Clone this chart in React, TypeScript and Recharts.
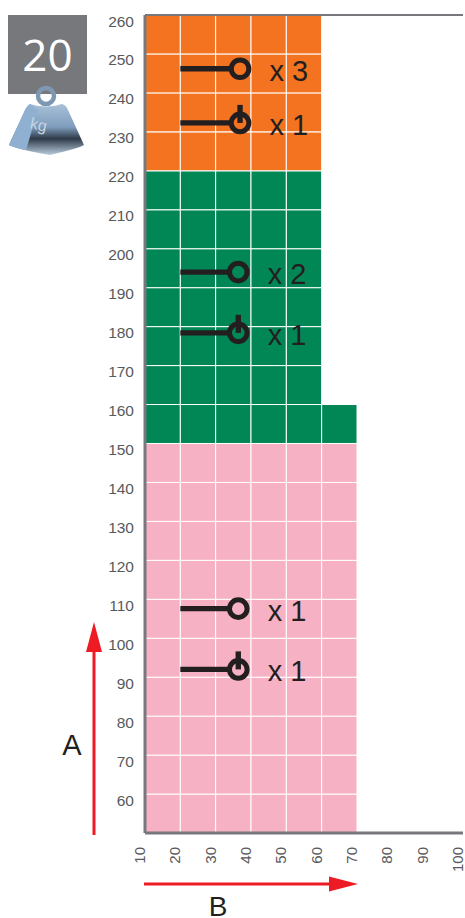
import { ComposedChart, Line, ReferenceArea, ReferenceLine, XAxis, YAxis } from 'recharts'

const xTicks = [10, 20, 30, 40, 50, 60, 70, 80, 90, 100]
const yTicks = [60, 70, 80, 90, 100, 110, 120, 130, 140, 150, 160, 170, 180, 190, 200, 210, 220, 230, 240, 250, 260]

// colored zones: A from / A to / B limit
const zoneFrom = [50, 150, 160, 220]
const zoneTo = [150, 160, 220, 260]
const zoneEnd = [70, 70, 60, 60]
const zoneColors = ['#f7b1c4', '#008755', '#008755', '#f47321']

// hose fittings
const fitA = [246.2, 232.3, 194, 178.4, 107.6, 92]
const fitB = [36.9, 36.9, 36.4, 36.4, 36.4, 36.4]
const stemStart = [20, 20, 20, 20, 20, 20]
const stemEnd = [34.4, 34.4, 33.9, 33.9, 33.9, 33.9]
const counts = ['x 3', 'x 1', 'x 2', 'x 1', 'x 1', 'x 1']
const notched = [false, true, false, true, false, true]

const GRAY = '#77787b'
const DARK = '#231f20'
const RED = '#ed1c24'

const cells: { x1: number; x2: number; y1: number; y2: number; fill: string }[] = []
zoneFrom.forEach((from, i) => {
  for (let a = from; a < zoneTo[i]; a += 10) {
    for (let b = 10; b < zoneEnd[i]; b += 10) {
      cells.push({ x1: b, x2: b + 10, y1: a, y2: a + 10, fill: zoneColors[i] })
    }
  }
})

function YTick({ x, y, payload }: any) {
  return (
    <text x={x} y={y + 11.5} textAnchor="end" fontFamily="Liberation Sans" fontSize={15.5} fill="#58595b">
      {payload.value}
    </text>
  )
}

function XTick({ x, y, payload }: any) {
  return (
    <text
      transform={`translate(${x},${y}) rotate(-90)`}
      textAnchor="end"
      fontFamily="Liberation Sans"
      fontSize={15}
      fill="#58595b"
    >
      {payload.value}
    </text>
  )
}

function Ring(props: any) {
  const { cx, cy, payload } = props
  if (cx == null || cy == null) return null
  return (
    <g key={payload.key}>
      <circle cx={cx} cy={cy} r={8.8} fill="none" stroke={DARK} strokeWidth={5} />
      {payload.notched && <rect x={cx - 2.7} y={cy - 18} width={5.4} height={18} fill={DARK} />}
      <text x={cx + 29.5} y={cy + 12} fontFamily="Liberation Sans" fontSize={29} fill={DARK}>
        {payload.count}
      </text>
    </g>
  )
}

function Weight() {
  return (
    <svg width={90} height={80} style={{ position: 'absolute', left: 0, top: 80 }}>
      <defs>
        <linearGradient id="kg" x1="0" y1="0" x2="0" y2="1">
          <stop offset="0" stopColor="#a9c0d8" />
          <stop offset="0.45" stopColor="#7f9dbd" />
          <stop offset="0.68" stopColor="#2f3a48" />
          <stop offset="1" stopColor="#b9cde0" />
        </linearGradient>
      </defs>
      <circle cx={46} cy={16} r={8} fill="none" stroke="#7f98b2" strokeWidth={4.5} />
      <path d="M30 24 Q46 29 62 24 Q66 25 68 30 L84 65 Q80 68 50 75 Q20 70 9 65 L25 30 Q27 25 30 24 Z" fill="url(#kg)" />
      <path d="M30 24 L38 30 L26 70 Q15 68 9 65 L25 30 Z" fill="#8fb0d0" />
      <text x={30} y={50} fontFamily="Liberation Sans" fontSize={16} fill="#c4d3e2" transform="rotate(12 38 45)">
        kg
      </text>
    </svg>
  )
}

export default function App() {
  return (
    <div style={{ position: 'absolute', left: 0, top: 0, width: 465, height: 918, background: '#fff', overflow: 'hidden' }}>
      <ComposedChart
        width={465}
        height={918}
        margin={{ top: 15, right: 2, bottom: 25, left: 85 }}
      >
        <XAxis
          type="number"
          dataKey="x"
          domain={[10, 100]}
          ticks={xTicks}
          interval={0}
          tick={<XTick />}
          tickLine={false}
          tickMargin={8}
          height={60}
          axisLine={{ stroke: GRAY, strokeWidth: 3 }}
          allowDuplicatedCategory={false}
        />
        <YAxis
          type="number"
          domain={[50, 260]}
          ticks={yTicks}
          interval={0}
          tick={<YTick />}
          tickLine={false}
          tickMargin={5}
          width={60}
          axisLine={{ stroke: GRAY, strokeWidth: 3 }}
        />
        {cells.map((c, i) => (
          <ReferenceArea
            key={i}
            x1={c.x1}
            x2={c.x2}
            y1={c.y1}
            y2={c.y2}
            fill={c.fill}
            fillOpacity={1}
            stroke="#ffffff"
            strokeWidth={1}
          />
        ))}
        <ReferenceLine y={260} stroke={GRAY} strokeWidth={2} />
        {fitA.map((a, i) => (
          <Line
            key={`stem${i}`}
            data={[
              { x: stemStart[i], a },
              { x: stemEnd[i], a },
            ]}
            dataKey="a"
            stroke={DARK}
            strokeWidth={5.4}
            dot={false}
            isAnimationActive={false}
          />
        ))}
        {fitA.map((a, i) => (
          <Line
            key={`ring${i}`}
            data={[{ x: fitB[i], a, count: counts[i], notched: notched[i], key: i }]}
            dataKey="a"
            stroke="none"
            dot={<Ring />}
            isAnimationActive={false}
          />
        ))}
      </ComposedChart>

      <div
        style={{
          position: 'absolute',
          left: 8,
          top: 15,
          width: 79,
          height: 79,
          background: GRAY,
          color: '#fff',
          fontFamily: 'Open Sans',
          fontSize: 44,
          lineHeight: '79px',
          textAlign: 'center',
        }}
      >
        20
      </div>
      <Weight />

      <svg width={465} height={918} style={{ position: 'absolute', left: 0, top: 0, pointerEvents: 'none' }}>
        <rect x={92.5} y={650} width={3} height={185} fill={RED} />
        <path d="M94 622 L102 652 L86 652 Z" fill={RED} />
        <rect x={144} y={882.5} width={188} height={3} fill={RED} />
        <path d="M358 884 L329 876.5 L329 891.5 Z" fill={RED} />
        <text x={72} y={755} textAnchor="middle" fontFamily="Liberation Sans" fontSize={29} fill={DARK}>
          A
        </text>
        <text x={218} y={916} textAnchor="middle" fontFamily="Liberation Sans" fontSize={28} fill={DARK}>
          B
        </text>
      </svg>
    </div>
  )
}
